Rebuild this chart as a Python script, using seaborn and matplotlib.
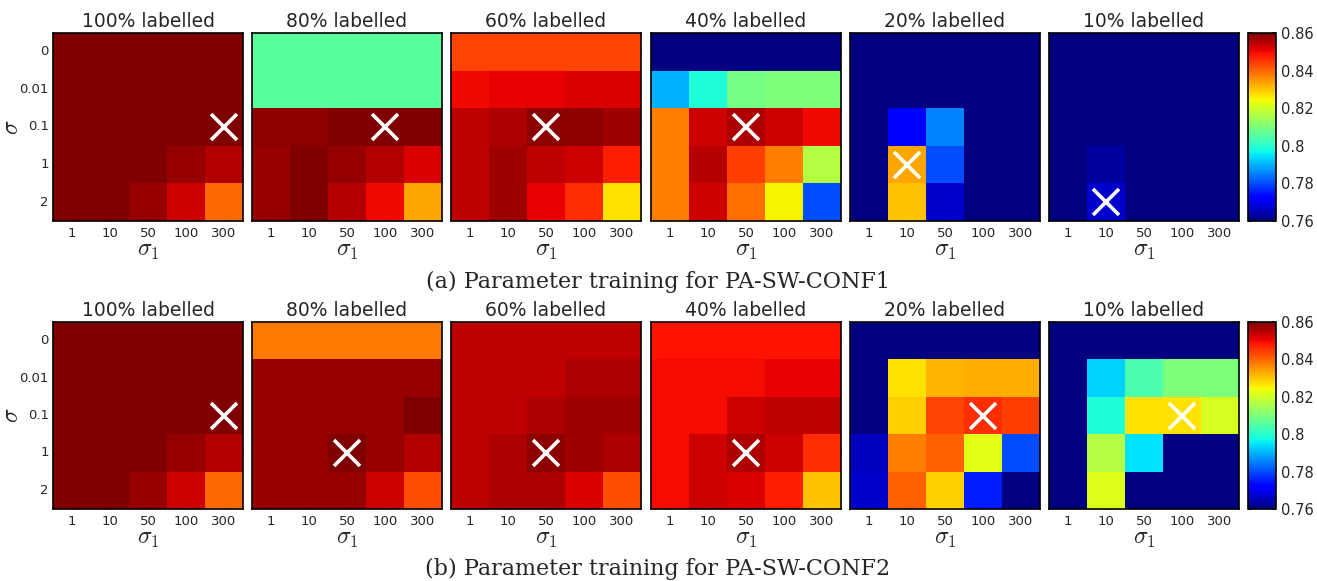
import numpy as np
import pandas as pd
import matplotlib
matplotlib.use("Agg")
import matplotlib.pyplot as plt
import seaborn as sns

# axis labels of every grid
sigma_labels = ["0", "0.01", "0.1", "1", "2"]
sigma1_labels = ["1", "10", "50", "100", "300"]
labelled = ["100%", "80%", "60%", "40%", "20%", "10%"]
captions = ["(a) Parameter training for PA-SW-CONF1",
            "(b) Parameter training for PA-SW-CONF2"]

NAV = 0.75  # below the colour range (dark navy)

# ---- (a) PA-SW-CONF1, rows = sigma, cols = sigma_1
a_100 = [[0.860, 0.860, 0.860, 0.860, 0.860],
         [0.860, 0.860, 0.860, 0.860, 0.860],
         [0.860, 0.860, 0.860, 0.860, 0.860],
         [0.860, 0.860, 0.860, 0.858, 0.8555],
         [0.860, 0.860, 0.858, 0.853, 0.840]]
a_80 = [[0.806, 0.806, 0.806, 0.806, 0.806],
        [0.806, 0.806, 0.806, 0.806, 0.806],
        [0.8585, 0.8585, 0.860, 0.860, 0.860],
        [0.858, 0.860, 0.858, 0.8555, 0.852],
        [0.858, 0.860, 0.8555, 0.850, 0.8334]]
a_60 = [[0.8437, 0.8437, 0.8437, 0.8437, 0.8437],
        [0.850, 0.851, 0.851, 0.852, 0.852],
        [0.8545, 0.856, 0.8585, 0.8585, 0.857],
        [0.8545, 0.857, 0.8545, 0.853, 0.8476],
        [0.8545, 0.857, 0.851, 0.846, 0.827]]
a_40 = [[NAV, NAV, NAV, NAV, NAV],
        [0.790, 0.799, 0.809, 0.810, 0.810],
        [0.8375, 0.853, 0.856, 0.853, 0.850],
        [0.8375, 0.855, 0.844, 0.8375, 0.8167],
        [0.8375, 0.853, 0.839, 0.825, 0.780]]
a_20 = [[NAV, NAV, NAV, NAV, NAV],
        [NAV, NAV, NAV, NAV, NAV],
        [NAV, 0.771, 0.785, NAV, NAV],
        [NAV, 0.8334, 0.780, NAV, NAV],
        [NAV, 0.8307, 0.767, NAV, NAV]]
a_10 = [[NAV, NAV, NAV, NAV, NAV],
        [NAV, NAV, NAV, NAV, NAV],
        [NAV, NAV, NAV, NAV, NAV],
        [NAV, 0.7628, NAV, NAV, NAV],
        [NAV, 0.767, NAV, NAV, NAV]]

# ---- (b) PA-SW-CONF2
b_100 = [[0.860, 0.860, 0.860, 0.860, 0.860],
         [0.860, 0.860, 0.860, 0.860, 0.860],
         [0.860, 0.860, 0.860, 0.860, 0.860],
         [0.860, 0.860, 0.860, 0.858, 0.8555],
         [0.860, 0.860, 0.858, 0.853, 0.840]]
b_80 = [[0.838, 0.838, 0.838, 0.838, 0.838],
        [0.858, 0.858, 0.858, 0.858, 0.858],
        [0.858, 0.858, 0.858, 0.858, 0.860],
        [0.858, 0.858, 0.860, 0.858, 0.8555],
        [0.858, 0.858, 0.858, 0.853, 0.8426]]
b_60 = [[0.8545, 0.8545, 0.8545, 0.8545, 0.8545],
        [0.8545, 0.8545, 0.8545, 0.856, 0.856],
        [0.8545, 0.8545, 0.856, 0.857, 0.857],
        [0.8545, 0.856, 0.8585, 0.857, 0.856],
        [0.8545, 0.856, 0.856, 0.852, 0.8426]]
b_40 = [[0.849, 0.849, 0.849, 0.849, 0.849],
        [0.8495, 0.8495, 0.8495, 0.851, 0.851],
        [0.8495, 0.8495, 0.853, 0.8545, 0.8545],
        [0.8495, 0.853, 0.856, 0.853, 0.846],
        [0.8495, 0.853, 0.852, 0.8476, 0.8307]]
b_20 = [[NAV, NAV, NAV, NAV, NAV],
        [NAV, 0.827, 0.832, 0.8325, 0.8325],
        [NAV, 0.829, 0.8437, 0.846, 0.844],
        [0.7655, 0.8375, 0.8405, 0.8223, 0.780],
        [0.767, 0.8405, 0.829, 0.7756, NAV]]
b_10 = [[NAV, NAV, NAV, NAV, NAV],
        [NAV, 0.793, 0.804, 0.810, 0.810],
        [NAV, 0.799, 0.827, 0.827, 0.821],
        [NAV, 0.8167, 0.7945, NAV, NAV],
        [NAV, 0.822, NAV, NAV, NAV]]

grids = [[a_100, a_80, a_60, a_40, a_20, a_10],
         [b_100, b_80, b_60, b_40, b_20, b_10]]

# chosen parameters (sigma, sigma_1) per panel
best_a = [("0.1", "300"), ("0.1", "100"), ("0.1", "50"), ("0.1", "50"), ("1", "10"), ("2", "10")]
best_b = [("0.1", "300"), ("1", "50"), ("1", "50"), ("1", "50"), ("0.1", "100"), ("0.1", "100")]
best = [best_a, best_b]

VMIN, VMAX = 0.76, 0.86
W, H = 1317, 581

sns.set_theme(style="white")
plt.rcParams['font.family'] = ['DejaVu Sans']
plt.rcParams['mathtext.fontset'] = 'cm'

fig = plt.figure(figsize=(W / 100, H / 100), dpi=100)

panel_left = [53, 252, 451, 651, 850, 1049]
row_top = [33, 322]
row_bot = [221, 509]
caption_y = [282, 569]


def px_axes(x0, y0, x1, y1):
    return fig.add_axes([x0 / W, 1 - y1 / H, (x1 - x0) / W, (y1 - y0) / H])


for r in range(2):
    for c in range(6):
        ax = px_axes(panel_left[c], row_top[r], panel_left[c] + 190, row_bot[r])
        df = pd.DataFrame(grids[r][c], index=sigma_labels, columns=sigma1_labels)
        sns.heatmap(df, ax=ax, cmap="jet", vmin=VMIN, vmax=VMAX, cbar=False,
                    square=False, linewidths=0)
        for s in ax.spines.values():
            s.set_visible(True)
            s.set_color("black")
            s.set_linewidth(1.2)
        ax.tick_params(axis="both", direction="in", length=3, width=0.8,
                       color="#333333", labelsize=9.5)
        ax.tick_params(axis="y", left=True, right=True, pad=3)
        ax.tick_params(axis="x", bottom=True, top=False, pad=4)
        ax.set_xticklabels(sigma1_labels, rotation=0)
        if c == 0:
            ax.set_yticklabels(sigma_labels, rotation=0)
            ax.set_ylabel(r"$\sigma$", fontsize=17)
            ax.yaxis.set_label_coords(-30 / 190, 0.5)
        else:
            ax.set_yticklabels([])
            ax.set_ylabel("")
        ax.set_xlabel(r"$\sigma_1$", fontsize=17, labelpad=-1)
        ax.set_title(labelled[c] + " labelled", fontsize=13.5, pad=4)
        sy, sx = best[r][c]
        ax.plot(sigma1_labels.index(sx) + 0.5, sigma_labels.index(sy) + 0.5,
                marker="x", color="white", markersize=19, markeredgewidth=2.6)

    cax = px_axes(1248, row_top[r], 1276, row_bot[r])
    sm = plt.cm.ScalarMappable(cmap="jet", norm=plt.Normalize(VMIN, VMAX))
    cb = fig.colorbar(sm, cax=cax, ticks=[0.76, 0.78, 0.8, 0.82, 0.84, 0.86])
    cb.ax.set_yticklabels(["0.76", "0.78", "0.8", "0.82", "0.84", "0.86"])
    cb.ax.tick_params(direction="in", length=3, labelsize=10.5, left=True, right=True)
    cb.outline.set_linewidth(1.2)
    cb.outline.set_edgecolor("black")

    fig.text(658 / W, 1 - caption_y[r] / H, captions[r], ha="center", va="center",
             fontsize=16, family=["DejaVu Serif"])

fig.savefig("out.png", dpi=100)
